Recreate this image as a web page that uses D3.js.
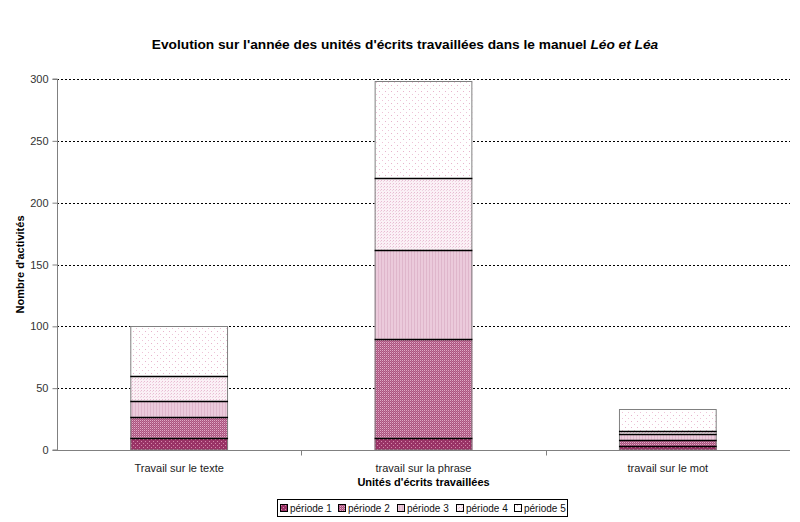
<!DOCTYPE html>
<html><head><meta charset="utf-8">
<script src="https://cdn.jsdelivr.net/npm/d3@7/dist/d3.min.js"></script>
<style>body{margin:0;background:#fff;font-family:Arial,"Liberation Sans",sans-serif;}</style>
</head><body>
<svg id="c" width="800" height="522"></svg>
<script>
const categories = ["Travail sur le texte", "travail sur la phrase", "travail sur le mot"];
const seriesNames = ["période 1", "période 2", "période 3", "période 4", "période 5"];
const periode1 = [10, 10, 3];
const periode2 = [17, 80, 5];
const periode3 = [13, 72, 5];
const periode4 = [20, 58, 2];
const periode5 = [40, 78, 18];
const yTicks = [0, 50, 100, 150, 200, 250, 300];
const seriesValues = [periode1, periode2, periode3, periode4, periode5];

const svg = d3.select("#c");
const M = {l: 57, r: 790, t: 79, b: 450};
const x = d3.scaleBand().domain(categories).range([M.l, M.r]).paddingInner(0.6).paddingOuter(0.3);
const y = d3.scaleLinear().domain([0, 300]).range([M.b, M.t]);

// patterns
const defs = svg.append("defs");
function pat(id, w, h, bg, draw) {
  const p = defs.append("pattern").attr("id", id).attr("patternUnits", "userSpaceOnUse")
    .attr("width", w).attr("height", h);
  p.append("rect").attr("width", w).attr("height", h).attr("fill", bg);
  draw(p);
}
pat("p0", 4, 4, "#993366", p => {
  p.append("rect").attr("x", 1).attr("y", 1).attr("width", 1).attr("height", 1).attr("fill", "#d488aa");
  p.append("rect").attr("x", 3).attr("y", 3).attr("width", 1).attr("height", 1).attr("fill", "#d488aa");
});
pat("p1", 2, 2, "#a8557f", p => {
  p.append("rect").attr("x", 0).attr("y", 0).attr("width", 1).attr("height", 1).attr("fill", "#e2a8c6");
  p.append("rect").attr("x", 1).attr("y", 1).attr("width", 1).attr("height", 1).attr("fill", "#c27098");
});
pat("p2", 3, 3, "#ebcadb", p => {
  p.append("rect").attr("x", 0).attr("y", 0).attr("width", 1).attr("height", 3).attr("fill", "#dfb6cb");
});
pat("p3", 3, 3, "#fbf1f6", p => {
  p.append("rect").attr("x", 0).attr("y", 0).attr("width", 1).attr("height", 1).attr("fill", "#e8bcd2");
  p.append("rect").attr("x", 2).attr("y", 1).attr("width", 1).attr("height", 1).attr("fill", "#f0d2e1");
});
pat("p4", 6, 6, "#ffffff", p => {
  p.append("rect").attr("x", 1).attr("y", 1).attr("width", 1).attr("height", 1).attr("fill", "#e8b4cc");
  p.append("rect").attr("x", 4).attr("y", 4).attr("width", 1).attr("height", 1).attr("fill", "#eec4d8");
});

// gridlines
svg.append("g").selectAll("line").data(yTicks.filter(d => d > 0)).join("line")
  .attr("x1", M.l).attr("x2", M.r).attr("y1", d => Math.round(y(d)) + 0.5).attr("y2", d => Math.round(y(d)) + 0.5)
  .attr("stroke", "#000").attr("stroke-dasharray", "2,2").attr("stroke-width", 1);

// stack
const table = categories.map((c, i) => {
  const o = {cat: c};
  seriesNames.forEach((s, j) => o[s] = seriesValues[j][i]);
  return o;
});
const stacked = d3.stack().keys(seriesNames)(table);

const g = svg.append("g");
stacked.forEach((layer, j) => {
  g.selectAll(null).data(layer).join("rect")
    .attr("x", d => x(d.data.cat)).attr("width", x.bandwidth())
    .attr("y", d => y(d[1])).attr("height", d => y(d[0]) - y(d[1]))
    .attr("fill", `url(#p${j})`);
});
// outer gray border
g.selectAll(null).data(stacked[stacked.length - 1]).join("rect")
  .attr("x", d => x(d.data.cat) + 0.5).attr("width", x.bandwidth() - 1)
  .attr("y", d => Math.round(y(d[1])) + 0.5).attr("height", d => y(0) - Math.round(y(d[1])) - 0.5)
  .attr("fill", "none").attr("stroke", "#808080").attr("stroke-width", 1);
// black separators
stacked.slice(0, -1).forEach(layer => {
  g.selectAll(null).data(layer).join("line")
    .attr("x1", d => x(d.data.cat)).attr("x2", d => x(d.data.cat) + x.bandwidth())
    .attr("y1", d => Math.round(y(d[1])) + 0.5).attr("y2", d => Math.round(y(d[1])) + 0.5)
    .attr("stroke", "#000").attr("stroke-width", 1.4);
});

// axes
const yAxis = svg.append("g").attr("transform", `translate(${M.l + 0.5},0)`)
  .call(d3.axisLeft(y).tickValues(yTicks).tickSize(5).tickPadding(4));
yAxis.select(".domain").attr("stroke", "#808080").attr("d", `M-5,${y(300)}H0V${y(0)}H-5`);
yAxis.selectAll(".tick line").attr("stroke", "#808080");
yAxis.selectAll("text").attr("font-size", 11).attr("fill", "#333").attr("font-family", "Arial, Liberation Sans, sans-serif");

const xAxis = svg.append("g").attr("transform", `translate(0,${M.b + 0.5})`);
xAxis.append("line").attr("x1", M.l).attr("x2", M.r).attr("stroke", "#808080");
const step = x.step();
xAxis.selectAll(".xt").data(categories.slice(1)).join("line")
  .attr("x1", c => Math.round(x(c) + x.bandwidth() / 2 - step / 2) + 0.5)
  .attr("x2", c => Math.round(x(c) + x.bandwidth() / 2 - step / 2) + 0.5)
  .attr("y1", 0).attr("y2", 5).attr("stroke", "#808080");
xAxis.selectAll(".xl").data(categories).join("text")
  .attr("x", c => x(c) + x.bandwidth() / 2).attr("y", 21)
  .attr("text-anchor", "middle").attr("font-size", 11).attr("fill", "#222").text(c => c);

// titles
const title = svg.append("text").attr("x", 405).attr("y", 49).attr("text-anchor", "middle")
  .attr("font-size", 13.7).attr("font-weight", "bold").attr("fill", "#000");
title.append("tspan").text("Evolution sur l'année des unités d'écrits travaillées dans le manuel ");
title.append("tspan").attr("font-style", "italic").text("Léo et Léa");

svg.append("text").attr("x", (M.l + M.r) / 2).attr("y", 486).attr("text-anchor", "middle")
  .attr("font-size", 11).attr("font-weight", "bold").text("Unités d'écrits travaillées");
svg.append("text").attr("transform", `translate(24,${(M.t + M.b) / 2}) rotate(-90)`)
  .attr("text-anchor", "middle").attr("font-size", 11).attr("font-weight", "bold").text("Nombre d'activités");

// legend
const lg = svg.append("g");
lg.append("rect").attr("x", 277.5).attr("y", 499.5).attr("width", 290).attr("height", 17)
  .attr("fill", "#fff").attr("stroke", "#000");
const legX = [280, 338, 397, 456, 514];
seriesNames.forEach((s, j) => {
  lg.append("rect").attr("x", legX[j] + 0.5).attr("y", 504.5).attr("width", 7).attr("height", 7)
    .attr("fill", `url(#p${j})`).attr("stroke", "#000");
  lg.append("text").attr("x", legX[j] + 10).attr("y", 512).attr("font-size", 10).attr("fill", "#111").text(s);
});
</script>
</body></html>
